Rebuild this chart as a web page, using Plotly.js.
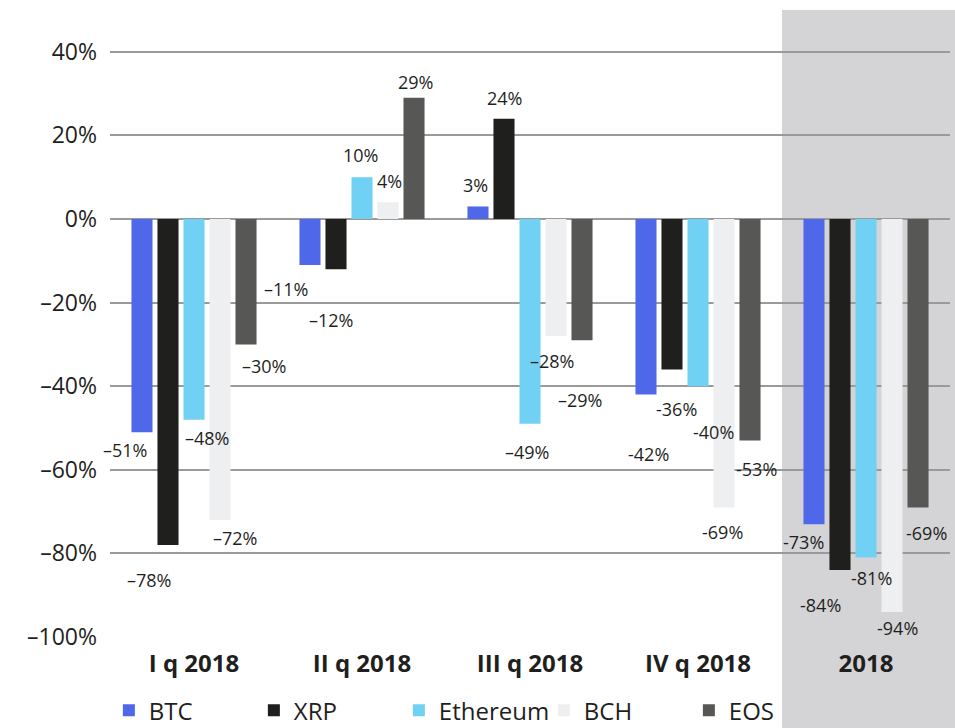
<!DOCTYPE html>
<html>
<head>
<meta charset="utf-8">
<script src="https://cdn.plot.ly/plotly-3.0.1.min.js"></script>
<style>
  html, body { margin: 0; padding: 0; background: #fff; }
  #plot { width: 955px; height: 728px; }
</style>
</head>
<body>
<div id="plot"></div>
<script>
// categories and series
var periods = ["I q 2018", "II q 2018", "III q 2018", "IV q 2018", "2018"];
var coins = ["BTC", "XRP", "Ethereum", "BCH", "EOS"];
var btc = [-51, -11, 3, -42, -73];
var xrp = [-78, -12, 24, -36, -84];
var eth = [-48, 10, -49, -40, -81];
var bch = [-72, 4, -28, -69, -94];
var eos = [-30, 29, -29, -53, -69];

// label text as printed on the chart (mixed dashes in the original)
var btcText = ["–51%", "–11%", "3%", "-42%", "-73%"];
var xrpText = ["–78%", "–12%", "24%", "-36%", "-84%"];
var ethText = ["–48%", "10%", "–49%", "-40%", "-81%"];
var bchText = ["–72%", "4%", "–28%", "-69%", "-94%"];
var eosText = ["–30%", "29%", "–29%", "-53%", "-69%"];

var yTicks = [-100, -80, -60, -40, -20, 0, 20, 40];
var yTickText = ["–100%", "–80%", "–60%", "–40%", "–20%", "0%", "20%", "40%"];

var colors = ["#4f68ea", "#1f1f1e", "#70d1f5", "#eeeff1", "#575756"];
var series = [btc, xrp, eth, bch, eos];
var texts = [btcText, xrpText, ethText, bchText, eosText];

// label nudges in pixels (per series, per period) - the labels are hand placed
var labelDx = [
  [-17, -24, -2, 3, -10],
  [-19, -5, 1, 5, -19],
  [13, -2, -3, 15, 5],
  [15, 1, -4, -2, 5],
  [18, 1, -2, 6, 8]
];
var labelDy = [
  [-18, -24, 21, -59, -18],
  [-35, -51, 21, -40, -35],
  [-18, 22, -28, -46, -20],
  [-18, 21, -25, -25, -16],
  [-22, 16, -60, -28, -26]
];

var font = "Open Sans, sans-serif";
var bargap = 0.226;
var slot = 840 / periods.length * (1 - bargap) / coins.length;

var data = [];
var annotations = [];
for (var i = 0; i < coins.length; i++) {
  data.push({
    x: periods,
    y: series[i],
    name: coins[i],
    type: "bar",
    marker: { color: colors[i] },
    hoverinfo: "x+y+name"
  });
  for (var j = 0; j < periods.length; j++) {
    annotations.push({
      x: j,  // category index
      y: series[i][j],
      xref: "x",
      yref: "y",
      text: texts[i][j],
      showarrow: false,
      xshift: (i - 2) * slot + labelDx[i][j],
      yshift: labelDy[i][j],
      font: { family: font, size: 18, color: "#1f1f1e" }
    });
  }
}

var layout = {
  width: 955,
  height: 728,
  margin: { l: 110, r: 5, t: 10, b: 91 },
  paper_bgcolor: "#ffffff",
  plot_bgcolor: "rgba(0,0,0,0)",
  barmode: "group",
  bargap: bargap,
  bargroupgap: 0.19,
  font: { family: font, color: "#1f1f1e" },
  xaxis: {
    type: "category",
    range: [-0.5, periods.length - 0.5],
    showgrid: false,
    showline: false,
    ticks: "",
    automargin: false,
    ticklabelstandoff: 10,
    tickfont: { family: font, size: 24, weight: "bold", color: "#1f1f1e" }
  },
  yaxis: {
    range: [-100, 50],
    tickvals: yTicks,
    ticktext: yTickText,
    showgrid: true,
    gridcolor: "#9a9a9a",
    gridwidth: 2,
    zeroline: true,
    zerolinecolor: "#9a9a9a",
    zerolinewidth: 2,
    showline: false,
    ticks: "",
    automargin: false,
    ticklabelstandoff: 12,
    tickfont: { family: font, size: 23, color: "#1f1f1e" }
  },
  legend: {
    orientation: "h",
    xref: "container",
    yref: "container",
    x: 0.114,
    xanchor: "left",
    y: 0.024,
    yanchor: "middle",
    entrywidth: 100,
    font: { family: font, size: 24, color: "#1f1f1e" },
    bgcolor: "rgba(0,0,0,0)"
  },
  shapes: [{
    type: "rect",
    xref: "paper",
    yref: "paper",
    x0: 0.8,
    x1: 1.01,
    y0: -0.15,
    y1: 1,
    fillcolor: "#d4d4d6",
    line: { width: 0 },
    layer: "below"
  }],
  annotations: annotations
};

Plotly.newPlot("plot", data, layout, { displayModeBar: false });
</script>
</body>
</html>
